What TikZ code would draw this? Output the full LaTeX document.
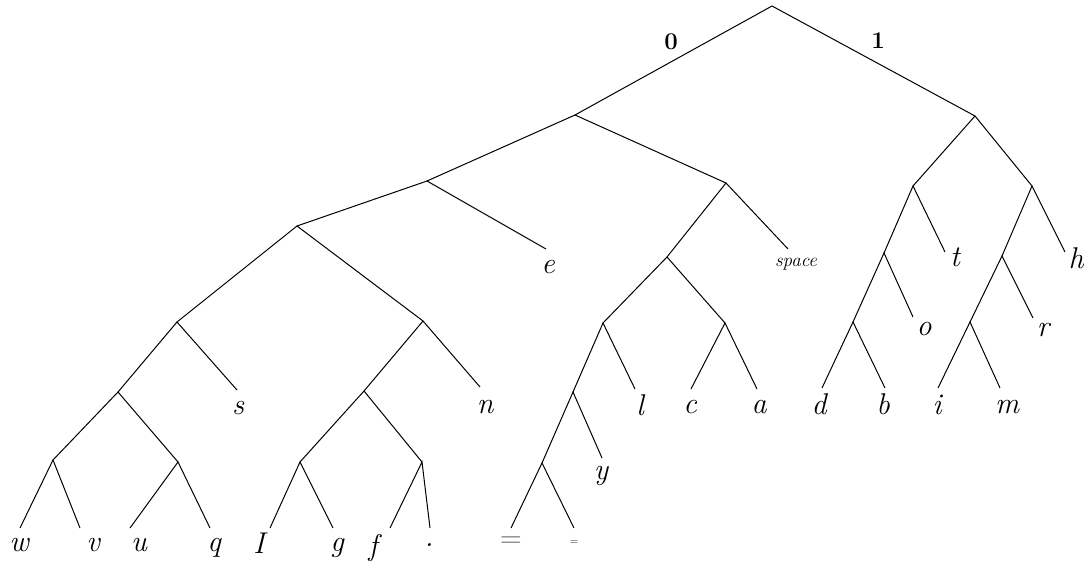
\documentclass[tikz,border=0pt]{standalone}
\usepackage{fontspec}
\begin{document}
\begin{tikzpicture}[x=1pt,y=-1pt,
  edge/.style={draw=black,line width=1pt},
  leaf/.style={inner sep=0pt,font=\fontsize{30}{32}\selectfont\itshape},
  small/.style={inner sep=0pt,font=\fontsize{19}{21}\selectfont\itshape},
  bit/.style={inner sep=0pt,font=\fontsize{24}{26}\selectfont\bfseries}]
\useasboundingbox (0,0) rectangle (1084,562);
% internal nodes
\coordinate (r) at (772,6);
\coordinate (A) at (575,115);
\coordinate (B) at (975,116);
\coordinate (A0) at (427,181);
\coordinate (A1) at (726,183);
\coordinate (A00) at (297,226);
\coordinate (A000) at (177,322);
\coordinate (A001) at (423,321);
\coordinate (A0000) at (118,392);
\coordinate (A00000) at (53,460);
\coordinate (A00001) at (178,462);
\coordinate (A0010) at (364,391);
\coordinate (A00100) at (300,462);
\coordinate (A00101) at (422,462);
\coordinate (A10) at (667,257);
\coordinate (A100) at (603,323);
\coordinate (A101) at (725,323);
\coordinate (A1000) at (573,392);
\coordinate (A10000) at (542,463);
\coordinate (B0) at (913,186);
\coordinate (B1) at (1032,186);
\coordinate (B00) at (884,253);
\coordinate (B000) at (853,322);
\coordinate (B10) at (1002,256);
\coordinate (B100) at (970,322);
% leaf ends
\coordinate (ee) at (546,249);
\coordinate (sp) at (788,249);
\coordinate (se) at (237,390);
\coordinate (ne) at (480,387);
\coordinate (le) at (635,389);
\coordinate (ce) at (691,389);
\coordinate (ae) at (757,389);
\coordinate (ye) at (602,458);
\coordinate (we) at (20,528);
\coordinate (ve) at (80,528);
\coordinate (ue) at (130,528);
\coordinate (qe) at (210,528);
\coordinate (Ie) at (270,528);
\coordinate (ge) at (333,528);
\coordinate (fe) at (390,528);
\coordinate (de) at (430,528);
\coordinate (eqa) at (511,528);
\coordinate (eqb) at (574,528);
\coordinate (te) at (945,252);
\coordinate (he) at (1065,252);
\coordinate (oe) at (913,317);
\coordinate (re) at (1033,318);
\coordinate (dde) at (822,388);
\coordinate (be) at (885,388);
\coordinate (ie) at (938,388);
\coordinate (me) at (1000,388);
% edges
\draw[edge] (A) -- (r) -- (B);
\draw[edge] (A0) -- (A) -- (A1);
\draw[edge] (A00) -- (A0) -- (ee);
\draw[edge] (A000) -- (A00) -- (A001);
\draw[edge] (A0000) -- (A000) -- (se);
\draw[edge] (A00000) -- (A0000) -- (A00001);
\draw[edge] (we) -- (A00000) -- (ve);
\draw[edge] (ue) -- (A00001) -- (qe);
\draw[edge] (A0010) -- (A001) -- (ne);
\draw[edge] (A00100) -- (A0010) -- (A00101);
\draw[edge] (Ie) -- (A00100) -- (ge);
\draw[edge] (fe) -- (A00101) -- (de);
\draw[edge] (A10) -- (A1) -- (sp);
\draw[edge] (A100) -- (A10) -- (A101);
\draw[edge] (A1000) -- (A100) -- (le);
\draw[edge] (ce) -- (A101) -- (ae);
\draw[edge] (A10000) -- (A1000) -- (ye);
\draw[edge] (eqa) -- (A10000) -- (eqb);
\draw[edge] (B0) -- (B) -- (B1);
\draw[edge] (B00) -- (B0) -- (te);
\draw[edge] (B000) -- (B00) -- (oe);
\draw[edge] (dde) -- (B000) -- (be);
\draw[edge] (B10) -- (B1) -- (he);
\draw[edge] (B100) -- (B10) -- (re);
\draw[edge] (ie) -- (B100) -- (me);
% labels
\node[bit] (l0) at (671,42) {0};
\node[bit] (l1) at (878,41) {1};
\node[leaf] (Le) at (548,267) {e};
\node[small] (Lsp) at (796,264) {space};
\node[leaf] (Ls) at (238,408) {s};
\node[leaf] (Ln) at (485,407) {n};
\node[leaf] (Ll) at (640,405) {l};
\node[leaf] (Lc) at (690,407) {c};
\node[leaf] (La) at (759,407) {a};
\node[leaf] (Ly) at (601,476) {y};
\node[leaf] (Lw) at (19,545) {w};
\node[leaf] (Lv) at (93,545) {v};
\node[leaf] (Lu) at (139,545) {u};
\node[leaf] (Lq) at (214,548) {q};
\node[leaf] (LI) at (259,543) {I};
\node[leaf] (Lg) at (337,548) {g};
\node[leaf] (Lf) at (373,548) {f};
\node[leaf] (Ld) at (429,545) {.};
\node[leaf,text=black!60] (Leqa) at (511,542) {\upshape =};
\node[inner sep=0pt,font=\fontsize{11}{12}\selectfont] (Leqb) at (574,543) {=};
\node[leaf] (Lt) at (955,257) {t};
\node[leaf] (Lh) at (1076,258) {h};
\node[leaf] (Lo) at (924,329) {o};
\node[leaf] (Lr) at (1043,330) {r};
\node[leaf] (Ldd) at (819,404) {d};
\node[leaf] (Lb) at (883,404) {b};
\node[leaf] (Li) at (937,405) {i};
\node[leaf] (Lm) at (1007,407) {m};
\end{tikzpicture}
\end{document}
